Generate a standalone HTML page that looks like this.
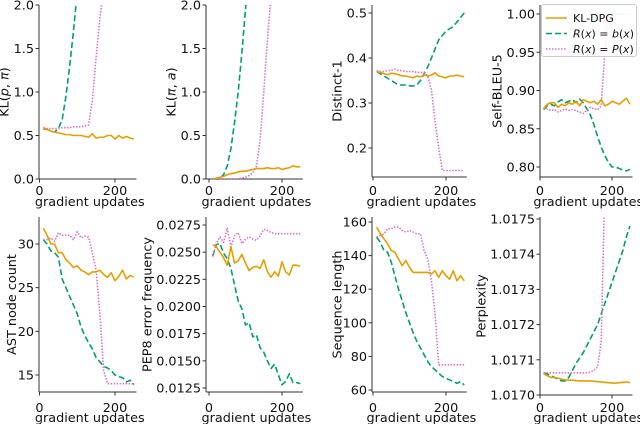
<!DOCTYPE html>
<html><head><meta charset="utf-8"><style>
html,body{margin:0;padding:0;background:#fff}
svg{display:block}
text{font-family:"DejaVu Sans","Liberation Sans",sans-serif;fill:#111}
</style></head><body>
<svg id="fig" width="640" height="424" viewBox="0 0 640 424" xmlns="http://www.w3.org/2000/svg"></svg>
<script>
const xSteps = [10,20,30,40,50,60,70,80,90,100,110,120,130,140,150,160,170,180,190,200,210,220,230,240,250];
const klpOrange = [0.59,0.57,0.55,0.54,0.53,0.52,0.51,0.51,0.50,0.50,0.50,0.49,0.48,0.52,0.47,0.48,0.48,0.50,0.50,0.46,0.50,0.47,0.49,0.47,0.46];
const klpGreen = [0.58,0.57,0.55,0.54,0.58,0.68,0.95,1.3,1.7,2.15,2.6,3,3.5,4,4.5,5,5.5,6,6.5,7,7.5,8,8.5,9,9.5];
const klpPink = [0.59,0.58,0.58,0.58,0.58,0.59,0.59,0.59,0.60,0.60,0.60,0.61,0.62,0.9,1.4,1.85,2.2,2.6,3,3.5,4,4.5,5,5.5,6];
const klaOrange = [0.0,0.01,0.02,0.03,0.05,0.06,0.07,0.08,0.09,0.09,0.10,0.11,0.12,0.12,0.12,0.13,0.12,0.12,0.13,0.11,0.12,0.13,0.15,0.14,0.14];
const klaGreen = [0,0,0.01,0.05,0.15,0.35,0.65,1.0,1.45,1.95,2.5,3,3.5,4,4.5,5,5.5,6,6.5,7,7.5,8,8.5,9,9.5];
const klaPink = [0,0,0,0,0,0,0,0,0.01,0.02,0.04,0.07,0.15,0.45,1.0,1.6,2.1,2.6,3,3.5,4,4.5,5,5.5,6];
const distOrange = [0.37,0.368,0.365,0.363,0.366,0.365,0.363,0.36,0.36,0.358,0.356,0.36,0.358,0.362,0.36,0.362,0.367,0.36,0.358,0.356,0.36,0.36,0.362,0.36,0.358];
const distGreen = [0.37,0.365,0.36,0.355,0.35,0.345,0.34,0.34,0.34,0.338,0.338,0.34,0.35,0.365,0.38,0.40,0.42,0.44,0.45,0.46,0.465,0.47,0.48,0.49,0.50];
const distPink = [0.372,0.37,0.37,0.372,0.373,0.375,0.372,0.372,0.37,0.37,0.37,0.368,0.368,0.368,0.36,0.33,0.26,0.20,0.15,0.15,0.15,0.15,0.15,0.15,0.15];
const bleuOrange = [0.876,0.882,0.884,0.884,0.878,0.882,0.88,0.884,0.882,0.886,0.88,0.888,0.886,0.884,0.886,0.882,0.888,0.88,0.882,0.886,0.884,0.882,0.886,0.89,0.882];
const bleuGreen = [0.875,0.88,0.882,0.88,0.885,0.888,0.884,0.886,0.888,0.884,0.889,0.884,0.876,0.868,0.855,0.84,0.826,0.815,0.806,0.80,0.80,0.798,0.796,0.795,0.797];
const bleuPink = [0.878,0.876,0.874,0.875,0.872,0.874,0.876,0.874,0.875,0.874,0.872,0.87,0.874,0.878,0.876,0.875,0.88,0.95,1.0,1.0,1.0,1.0,1.0,1.0,1.0];
const astOrange = [31.8,31,30,30,29,29,28.2,27.8,27.3,27.5,27,26.8,26.5,26.8,26.8,27,26.5,26.2,26.7,25.8,26.3,27,26,26.4,26.2];
const astGreen = [30.5,30,29.2,29,28.5,26,25,24,23,22,20.5,19.5,18.7,18,17,16.5,16,15.8,15.5,15,14.8,14.7,14.2,14.4,13.9];
const astPink = [30.5,30.5,30.7,30.3,31.3,31,31,31,30.5,31.4,30.7,30.9,30.8,29,27,22,15.5,14.0,14,14,14,14,14,14,14];
const pepOrange = [0.0257,0.0255,0.0250,0.0245,0.0238,0.0255,0.0240,0.0242,0.0248,0.0240,0.0233,0.0236,0.0237,0.0235,0.0243,0.0232,0.0227,0.0232,0.0228,0.0241,0.0232,0.0229,0.0238,0.0238,0.0237];
const pepGreen = [0.0246,0.0257,0.0258,0.0249,0.0244,0.0235,0.0220,0.0205,0.0198,0.0183,0.0185,0.0172,0.0174,0.0162,0.0158,0.0150,0.0143,0.0147,0.0137,0.0128,0.0131,0.0138,0.0130,0.0130,0.0129];
const pepPink = [0.0246,0.0258,0.0264,0.0259,0.0272,0.0255,0.0265,0.0268,0.0258,0.0262,0.0264,0.0262,0.0261,0.0265,0.0271,0.0270,0.0268,0.0267,0.0267,0.0267,0.0267,0.0267,0.0267,0.0267,0.0267];
const lenOrange = [157,153,150,147,143,142,138,134,137,133,130,130,130,130,130,129,131,127,131,128,126,131,125,128,125];
const lenGreen = [151,148,143,142,136,128,120,113,106,100,94,89,85,81,77,74,72,70,68,67,66,65,64,65,63];
const lenPink = [151,152,153,156,156,157,157,155,154,155,154,153,153,143,138,125,105,75,75,75,75,75,75,75,75];
const pplOrange = [1.01706,1.017055,1.01705,1.01705,1.017048,1.017045,1.017043,1.017042,1.017042,1.017041,1.01704,1.01704,1.01704,1.01704,1.017039,1.017038,1.017037,1.017036,1.017035,1.017034,1.017034,1.017035,1.017036,1.017037,1.017035];
const pplGreen = [1.017063,1.01706,1.017055,1.01705,1.017045,1.01704,1.01704,1.01705,1.01707,1.01709,1.017105,1.01712,1.01714,1.01716,1.01718,1.0172,1.01723,1.01726,1.01729,1.01732,1.01735,1.01738,1.01741,1.01745,1.01748];
const pplPink = [1.017063,1.017063,1.017063,1.017063,1.017063,1.017063,1.017063,1.017063,1.017063,1.017063,1.017063,1.017063,1.017063,1.017065,1.01707,1.01708,1.01715,1.0176,1.0178,1.018,1.018,1.018,1.018,1.018,1.018];

const xTicks = [0,200];
const tickKL = ["0.0","0.5","1.0","1.5","2.0"];
const tickDist = ["0.2","0.3","0.4","0.5"];
const tickBleu = ["0.80","0.85","0.90","0.95","1.00"];
const tickAst = ["15","20","25","30"];
const tickPep = ["0.0125","0.0150","0.0175","0.0200","0.0225","0.0250","0.0275"];
const tickLen = ["60","80","100","120","140","160"];
const tickPpl = ["1.0170","1.0171","1.0172","1.0173","1.0174","1.0175"];

const NS="http://www.w3.org/2000/svg";
const fig=document.getElementById('fig');
function mk(tag,attrs,parent){const e=document.createElementNS(NS,tag);for(const k in attrs)e.setAttribute(k,attrs[k]);(parent||fig).appendChild(e);return e;}
const C={o:"#e69f00",g:"#009e73",p:"#dd6fcf"};

const panels=[
 {name:"kl-p-pi",label:"KL(p, π)",spX:39,x0:39.5,x200:115,top:5,bot:179,v1:0,p1:179,v2:2,p2:5,ticks:tickKL,s:[klpOrange,klpGreen,klpPink],xl:187,xll:203},
 {name:"kl-pi-a",label:"KL(π, a)",spX:206,x0:209,x200:282,top:5,bot:179,v1:0,p1:179,v2:2,p2:5,ticks:tickKL,s:[klaOrange,klaGreen,klaPink],xl:187,xll:203},
 {name:"distinct-1",label:"Distinct-1",spX:372,x0:373,x200:446,top:5,bot:177,v1:0.2,p1:148,v2:0.5,p2:13,ticks:tickDist,s:[distOrange,distGreen,distPink],xl:187,xll:203},
 {name:"self-bleu-5",label:"Self-BLEU-5",spX:540,x0:540,x200:612,top:5,bot:177,v1:0.8,p1:167,v2:1.0,p2:14,ticks:tickBleu,s:[bleuOrange,bleuGreen,bleuPink],xl:187,xll:203},
 {name:"ast-node-count",label:"AST node count",spX:39,x0:39.5,x200:115,top:217,bot:392,v1:15,p1:375,v2:30,p2:244,ticks:tickAst,s:[astOrange,astGreen,astPink],xl:404,xll:419},
 {name:"pep8-error-frequency",label:"PEP8 error frequency",spX:206,x0:209,x200:282,top:217,bot:392,v1:0.0125,p1:388,v2:0.0275,p2:225,ticks:tickPep,s:[pepOrange,pepGreen,pepPink],xl:404,xll:419},
 {name:"sequence-length",label:"Sequence length",spX:372,x0:373,x200:446,top:217,bot:392,v1:60,p1:390,v2:160,p2:222,ticks:tickLen,s:[lenOrange,lenGreen,lenPink],xl:404,xll:419},
 {name:"perplexity",label:"Perplexity",spX:540,x0:540,x200:612,top:217,bot:395,v1:1.017,p1:395,v2:1.0175,p2:219,ticks:tickPpl,s:[pplOrange,pplGreen,pplPink],xl:404,xll:419}
];
const styles=[{c:C.o,d:"",n:"kl-dpg-line"},{c:C.g,d:"6 3",n:"r-equals-b-line"},{c:C.p,d:"1.5 1.5",n:"r-equals-p-line"}];

panels.forEach((P,i)=>{
 const g=mk('g',{});
 
 
 const xs=v=>P.x0+(v)*(P.x200-P.x0)/200;
 const ys=v=>P.p1+(v-P.v1)*(P.p2-P.p1)/(P.v2-P.v1);
 const right=xs(257);
 const cp=mk('clipPath',{id:'cp'+i},g);
 mk('rect',{x:P.spX,y:P.top,width:right-P.spX,height:P.bot-P.top},cp);
 const sp1=mk('line',{x1:P.spX,y1:P.top,x2:P.spX,y2:P.bot,stroke:"#333","stroke-width":1},g);
 
 
 const sp2=mk('line',{x1:P.spX,y1:P.bot,x2:right,y2:P.bot,stroke:"#333","stroke-width":1},g);
 
 
 P.ticks.forEach(t=>{const v=parseFloat(t);const y=ys(v);
  mk('line',{x1:P.spX-3.5,y1:y,x2:P.spX,y2:y,stroke:"#333"},g);
  const tx=mk('text',{x:P.spX-5,y:y+4.5,"text-anchor":"end","font-size":"12.8"},g);tx.textContent=t;
  
  
 });
 xTicks.forEach(t=>{const x=xs(t);
  mk('line',{x1:x,y1:P.bot,x2:x,y2:P.bot+3.5,stroke:"#333"},g);
  const tx=mk('text',{x:x,y:P.xl+8,"text-anchor":"middle","font-size":"12.8"},g);tx.textContent=t;
  
  
 });
 const xl=mk('text',{x:(P.spX+right)/2+2,y:P.xll+3,"text-anchor":"middle","font-size":"12.8"},g);xl.textContent="gradient updates";
 
 
 const maxW=Math.max(...P.ticks.map(t=>t.length))*7.9;
 const yx=P.spX-7-maxW;
 const yl=mk('text',{x:yx,y:(P.top+P.bot)/2,"text-anchor":"middle","font-size":"12.8",transform:`rotate(-90 ${yx} ${(P.top+P.bot)/2})`},g);
 if(P.label.startsWith("KL(")){
  const inner=P.label.slice(3,-1).split(", ");
  yl.appendChild(document.createTextNode("KL("));
  const a=mk('tspan',{"font-style":"italic"},yl);a.textContent=inner[0];
  yl.appendChild(document.createTextNode(", "));
  const b=mk('tspan',{"font-style":"italic"},yl);b.textContent=inner[1];
  yl.appendChild(document.createTextNode(")"));
 } else yl.textContent=P.label;
 
 
 const sg=mk('g',{"clip-path":`url(#cp${i})`},g);
 [1,2,0].forEach(k=>{const st=styles[k];const arr=P.s[k];
  const d=arr.map((v,j)=>(j?"L":"M")+xs(xSteps[j]).toFixed(2)+","+ys(v).toFixed(2)).join("");
  const p=mk('path',{d:d,fill:"none",stroke:st.c,"stroke-width":1.6,"stroke-dasharray":st.d,"stroke-linejoin":"round"},sg);
  
  
 });
});

const lg=mk('g',{});


mk('rect',{x:541.5,y:4.5,width:95,height:52,rx:2.5,fill:"#fff","fill-opacity":0.85,stroke:"#ccc"},lg);
const entries=[["KL-DPG",0],["b",1],["P",2]];
entries.forEach((e,k)=>{const y=18+k*15.5;const st=styles[e[1]];
 mk('line',{x1:546,y1:y,x2:567,y2:y,stroke:st.c,"stroke-width":1.6,"stroke-dasharray":st.d},lg);
 const t=mk('text',{x:573,y:y+4,"font-size":"11"},lg);
 if(k===0)t.textContent="KL-DPG";
 else{
  const i1=mk('tspan',{"font-style":"italic"},t);i1.textContent="R";
  t.appendChild(document.createTextNode("("));
  const i2=mk('tspan',{"font-style":"italic"},t);i2.textContent="x";
  t.appendChild(document.createTextNode(") = "));
  const i3=mk('tspan',{"font-style":"italic"},t);i3.textContent=e[0];
  t.appendChild(document.createTextNode("("));
  const i4=mk('tspan',{"font-style":"italic"},t);i4.textContent="x";
  t.appendChild(document.createTextNode(")"));
 }
 
 
});
</script>
</body></html>
